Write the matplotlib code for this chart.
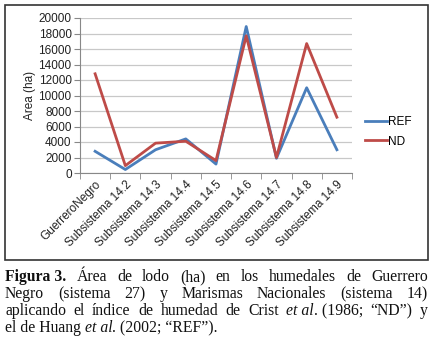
import matplotlib.pyplot as plt
from matplotlib.patches import Rectangle

categories = ['GuerreroNegro', 'Subsistema 14.2', 'Subsistema 14.3', 'Subsistema 14.4',
              'Subsistema 14.5', 'Subsistema 14.6', 'Subsistema 14.7', 'Subsistema 14.8',
              'Subsistema 14.9']
ref_vals = [2800, 450, 3000, 4400, 1150, 18900, 1900, 11000, 3000]
nd_vals = [12800, 950, 3850, 4100, 1600, 17700, 2000, 16700, 7200]
yticks = list(range(0, 20001, 2000))

caption_lines = [
    [('Figura 3.', 'bold'), ('Área', 'normal'), ('de', 'normal'), ('lodo', 'normal'), ('(ha)', 'normal'),
     ('en', 'normal'), ('los', 'normal'), ('humedales', 'normal'), ('de', 'normal'), ('Guerrero', 'normal')],
    [('Negro', 'normal'), ('(sistema', 'normal'), ('27)', 'normal'), ('y', 'normal'), ('Marismas', 'normal'),
     ('Nacionales', 'normal'), ('(sistema', 'normal'), ('14)', 'normal')],
    [('aplicando', 'normal'), ('el', 'normal'), ('índice', 'normal'), ('de', 'normal'), ('humedad', 'normal'),
     ('de', 'normal'), ('Crist', 'normal'), ('et al', 'italic'), ('. (1986;', 'normal'), ('“ND”)', 'normal'), ('y', 'normal')],
    [('el de Huang ', 'normal'), ('et al', 'italic'), ('. (2002; “REF”).', 'normal')],
]

W, H = 433, 345
fig = plt.figure(figsize=(W / 100, H / 100), dpi=100)

# chart frame
fig.patches.append(Rectangle((5 / W, 1 - 260 / H), 423 / W, 255 / H, transform=fig.transFigure,
                             fill=False, edgecolor='#333333', linewidth=1.2))

tfont = dict(fontsize=8.5, family='Liberation Sans', color='#222222')
ax = fig.add_axes([80 / W, 1 - 173 / H, 272 / W, 155 / H])
x = list(range(len(categories)))
ax.plot(x, ref_vals, color='#4a7ebb', lw=2.0, label='REF')
ax.plot(x, nd_vals, color='#be4b48', lw=2.0, label='ND')
ax.set_xlim(-0.5, len(categories) - 0.5)
ax.set_ylim(0, 20000)
ax.set_yticks(yticks)
ax.set_yticklabels([str(v) for v in yticks], **tfont)
ax.set_xticks(x)
ax.set_xticklabels(categories, rotation=45, ha='right', rotation_mode='anchor', **tfont)
ax.tick_params(axis='x', length=0, pad=4)
ax.set_xticks([i - 0.5 for i in range(len(categories) + 1)], minor=True)
ax.tick_params(axis='x', which='minor', length=4, color='#888888', direction='out')
ax.tick_params(axis='y', length=4, color='#888888', pad=2)
ax.grid(axis='y', color='#c8c8c8', lw=0.9)
ax.set_axisbelow(True)
for s in ['top', 'right']:
    ax.spines[s].set_visible(False)
ax.spines['left'].set_color('#888888')
ax.spines['bottom'].set_color('#888888')
ax.set_ylabel('Area (ha)', labelpad=2, **tfont)

ax.legend(loc='center left', bbox_to_anchor=(360 / W, 1 - 132 / H), bbox_transform=fig.transFigure,
          frameon=False, prop={'family': 'Liberation Sans', 'size': 8.5},
          handlelength=1.9, handletextpad=0.1, labelspacing=0.6, borderaxespad=0)

# caption, justified
fig.canvas.draw()
renderer = fig.canvas.get_renderer()
left, right = 5, 428
ys = [281, 298, 315, 332]
fs = 11.3
for li, (words, yp) in enumerate(zip(caption_lines, ys)):
    texts = []
    for w, st in words:
        t = fig.text(0, 1 - yp / H, w, fontsize=fs, family='Liberation Serif', va='baseline',
                     weight='bold' if st == 'bold' else 'normal',
                     style='italic' if st == 'italic' else 'normal', color='#111111')
        texts.append(t)
    widths = [t.get_window_extent(renderer).width for t in texts]
    last = li == len(caption_lines) - 1
    if last:
        pos = left
        for t, wd in zip(texts, widths):
            t.set_x(pos / W)
            pos += wd
    else:
        # glue "et al" with following "." segment
        glue = [i for i, (w, st) in enumerate(words) if i + 1 < len(words) and words[i + 1][0].startswith('.')]
        gaps = len(words) - 1 - len(glue)
        extra = (right - left - sum(widths)) / gaps
        pos = left
        for i, (t, wd) in enumerate(zip(texts, widths)):
            t.set_x(pos / W)
            pos += wd
            if i not in glue:
                pos += extra

fig.savefig('out.png', dpi=100)
